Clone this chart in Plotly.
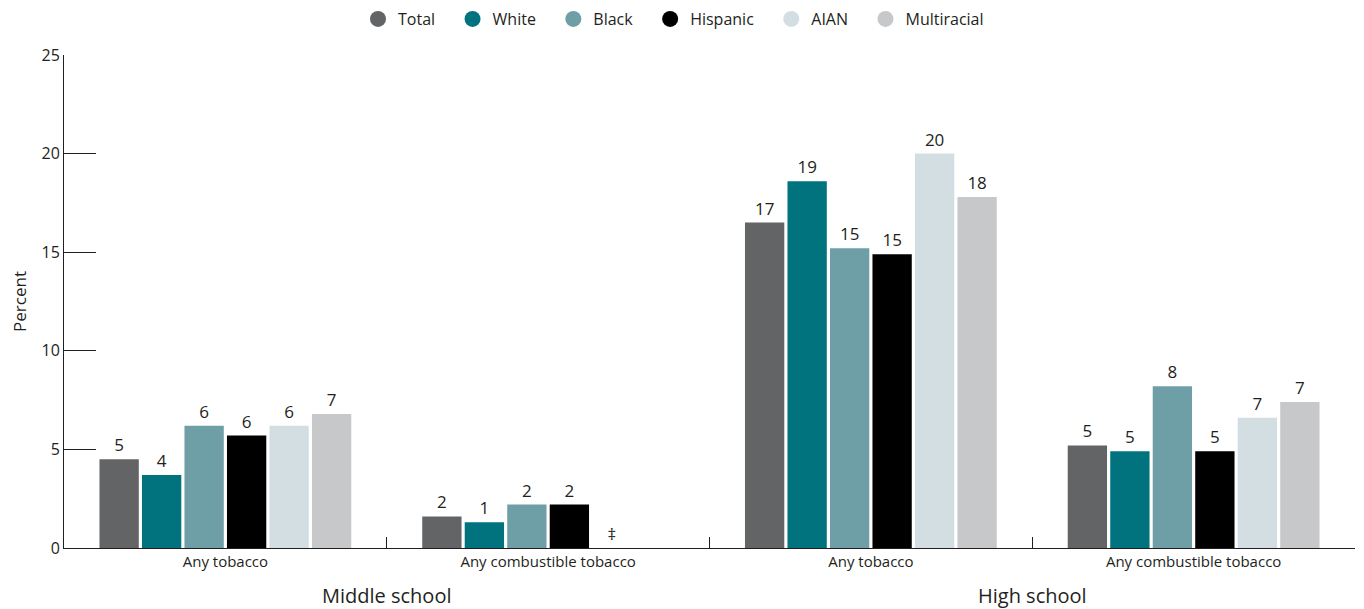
import plotly.graph_objects as go

categories = ["MS|Any tobacco", "MS|Any combustible tobacco", "HS|Any tobacco", "HS|Any combustible tobacco"]
tick_labels = ["Any tobacco", "Any combustible tobacco", "Any tobacco", "Any combustible tobacco"]
group_labels = ["Middle school", "High school"]

series_names = ["Total", "White", "Black", "Hispanic", "AIAN", "Multiracial"]
total = [4.5, 1.6, 16.5, 5.2]
white = [3.7, 1.3, 18.6, 4.9]
black = [6.2, 2.2, 15.2, 8.2]
hispanic = [5.7, 2.2, 14.9, 4.9]
aian = [6.2, None, 20.0, 6.6]
multiracial = [6.8, None, 17.8, 7.4]
series_values = [total, white, black, hispanic, aian, multiracial]
suppressed_flag = "‡"

colors = ["#636466", "#00737F", "#6E9FA6", "#000000", "#D3DEE3", "#C7C8CA"]

FONT = "Open Sans, sans-serif"
TXT = "#231F20"
PAD = "\u00a0" * 3

fig = go.Figure()
for name, vals, col in zip(series_names, series_values, colors):
    ys = []
    texts = []
    for v in vals:
        if v is None:
            if name == "AIAN":
                ys.append(0)
                texts.append(suppressed_flag)
            else:
                ys.append(None)
                texts.append("")
        else:
            ys.append(v)
            texts.append(str(int(v + 0.5)))
    fig.add_trace(go.Bar(
        x=categories, y=ys, name=name, marker=dict(color=col, line=dict(width=0)),
        text=texts, textposition="outside", cliponaxis=False,
        textfont=dict(family=FONT, size=17, color=TXT),
        showlegend=False, hoverinfo="x+y+name",
    ))
    fig.add_trace(go.Scatter(
        x=[None], y=[None], mode="markers", name=name + PAD,
        marker=dict(symbol="circle", size=16, color=col), showlegend=True,
    ))

fig.update_layout(
    width=1364, height=609,
    margin=dict(l=64, r=9, t=55, b=61, autoexpand=False),
    paper_bgcolor="white", plot_bgcolor="white",
    barmode="group", bargap=0.21, bargroupgap=0.075,
    font=dict(family=FONT, size=15, color=TXT),
    legend=dict(orientation="h", xref="container", yref="container",
                x=358 / 1364, xanchor="left", y=1 - 19 / 609, yanchor="middle",
                font=dict(family=FONT, size=16, color=TXT), itemwidth=30,
                traceorder="normal"),
    xaxis=dict(
        type="category", tickmode="array", tickvals=categories, ticktext=tick_labels,
        tickson="boundaries", ticks="inside", ticklen=11, tickcolor=TXT, tickwidth=1,
        showline=True, linecolor=TXT, linewidth=1, showgrid=False, automargin=False,
        tickfont=dict(family=FONT, size=15, color=TXT),
    ),
    yaxis=dict(
        range=[0, 25], tickvals=[0, 5, 10, 15, 20, 25], ticks="inside", ticklen=32,
        tickcolor=TXT, tickwidth=1, showline=True, linecolor=TXT, linewidth=1,
        showgrid=False, zeroline=False, automargin=False,
        tickfont=dict(family=FONT, size=16, color=TXT),
        title=dict(text="Percent", font=dict(family=FONT, size=17, color=TXT), standoff=10),
    ),
)

for i, g in enumerate(group_labels):
    fig.add_annotation(
        x=2 * i + 0.5, xref="x", y=-0.097, yref="paper", yanchor="middle",
        text=g, showarrow=False,
        font=dict(family=FONT, size=20, color=TXT),
    )

fig.write_html("out.html", config={"displayModeBar": False},
               post_script="document.body.style.margin='0';document.body.style.overflow='hidden';")
